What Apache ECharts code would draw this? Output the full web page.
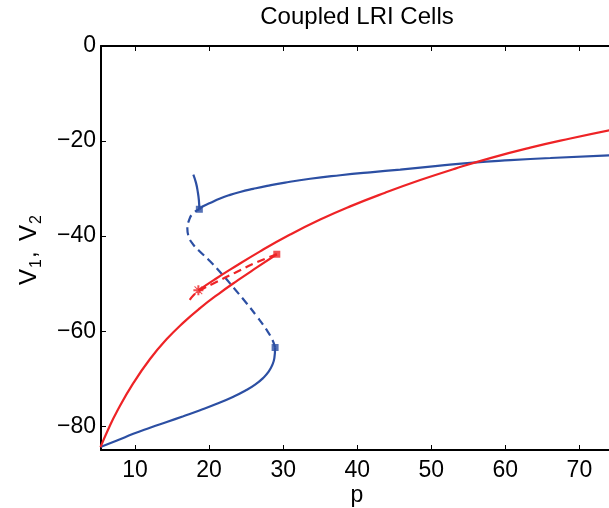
<!DOCTYPE html>
<html>
<head>
<meta charset="utf-8">
<script src="https://cdn.jsdelivr.net/npm/echarts@6/dist/echarts.min.js"></script>
<style>html,body{margin:0;padding:0;background:#fff}#c{width:609px;height:508px}</style>
</head>
<body>
<div id="c"></div>
<script>
// ---- data (p, V) ----
var xTicks = [10, 20, 30, 40, 50, 60, 70];
var yTicks = [0, -20, -40, -60, -80];

var blueLower = [[5.33,-84.35],[7.56,-83.0],[9.76,-81.6],[12.02,-80.33],[14.28,-79.11],[16.52,-77.89],[18.78,-76.63],[21.04,-75.28],[23.28,-73.79],[24.86,-72.55],[26.21,-71.25],[27.29,-69.86],[28.04,-68.53],[28.51,-67.17],[28.81,-65.69],[28.91,-63.44]];
var blueUnstable = [[28.91,-63.44],[28.51,-61.7],[27.7,-59.59],[26.48,-56.96],[25.0,-54.02],[23.37,-50.97],[21.75,-48.02],[20.13,-45.29],[18.64,-43.08],[17.76,-41.6],[17.22,-40.03],[17.06,-38.35],[17.29,-36.66],[17.83,-35.19],[18.68,-34.35]];
var blueUpper = [[18.68,-34.35],[19.18,-33.72],[20.13,-33.03],[21.48,-32.08],[22.83,-31.32],[24.18,-30.71],[25.94,-30.06],[27.83,-29.43],[30.26,-28.73],[33.64,-27.93],[37.7,-27.2],[41.75,-26.57],[45.81,-26.0],[50.54,-25.28],[55.67,-24.53],[60.67,-24.02],[66.08,-23.56],[74.05,-22.99]];
var blueTop = [[17.87,-27.05],[18.23,-28.8],[18.47,-30.7],[18.62,-32.5],[18.68,-34.35]];
var blueMarks = [[18.68,-34.35],[28.91,-63.44]];

var redLower = [[5.33,-84.4],[6.35,-80.73],[7.52,-76.99],[9.76,-70.94],[12.02,-65.85],[14.28,-61.67],[16.52,-58.2],[18.78,-55.15],[21.3,-52.13],[23.9,-49.27],[26.5,-46.54],[29.14,-43.81]];
var redUnstable = [[29.14,-43.81],[26.44,-45.5],[23.51,-47.7],[20.58,-49.98],[18.78,-51.4],[17.83,-52.55],[17.2,-53.85]];
var redUpper = [[18.55,-51.4],[20.67,-49.2],[22.83,-47.06],[26.89,-43.2],[30.94,-39.67],[35.0,-36.51],[39.05,-33.74],[43.78,-30.86],[48.51,-28.21],[53.24,-25.79],[57.97,-23.58],[63.37,-21.39],[68.78,-19.46],[74.05,-17.73]];
var redSquare = [[29.14,-43.81]];
var redStar = [[18.55,-51.4]];

var BLUE = '#2c4fa3', RED = '#ee2326';
var FONT = 'Liberation Sans, Arial, Helvetica, sans-serif';
var XMIN = 5.4, XMAX = 74.0, YMIN = -85, YMAX = 0;

function line(data, color, dashed) {
  return {
    type: 'line', data: data, smooth: 0.5, showSymbol: false, symbol: 'none',
    xAxisIndex: 0, yAxisIndex: 0, z: 3, silent: true,
    lineStyle: { color: color, width: 2.2, type: dashed ? [8, 5] : 'solid' }
  };
}
function marks(data, color, symbol, size) {
  return {
    type: 'scatter', data: data, symbol: symbol, symbolSize: size,
    itemStyle: { color: color }, z: 5, silent: true
  };
}
var minus = function (v) { return String(v).replace('-', '\u2212'); };
var STAR = 'path://M4,0 L6,0 L6,4 L10,4 L10,6 L6,6 L6,10 L4,10 L4,6 L0,6 L0,4 L4,4 Z M1.5,0.8 L5,4.3 L8.5,0.8 L9.2,1.5 L5.7,5 L9.2,8.5 L8.5,9.2 L5,5.7 L1.5,9.2 L0.8,8.5 L4.3,5 L0.8,1.5 Z';

function lbl(text, x, y, size) {
  return { type: 'text', x: x, y: y, style: { text: text, fill: '#000', font: size + 'px ' + FONT, textAlign: 'left', textVerticalAlign: 'middle' } };
}

var chart = echarts.init(document.getElementById('c'), null, { renderer: 'canvas' });
chart.setOption({
  animation: false,
  backgroundColor: '#fff',
  grid: { left: 101, right: 0, top: 46, bottom: 58, containLabel: false },
  xAxis: [{
    type: 'value', min: XMIN, max: XMAX, position: 'bottom',
    axisLine: { show: true, onZero: false, lineStyle: { color: '#000', width: 2 } },
    axisTick: { show: true, inside: true, length: 5, customValues: xTicks, lineStyle: { color: '#000', width: 1 } },
    axisLabel: { customValues: xTicks, color: '#000', fontSize: 23, fontFamily: FONT, margin: 9 },
    splitLine: { show: false }
  }, {
    type: 'value', min: XMIN, max: XMAX, position: 'top',
    axisLine: { show: true, onZero: false, lineStyle: { color: '#000', width: 2 } },
    axisTick: { show: true, inside: true, length: 5, customValues: xTicks, lineStyle: { color: '#000', width: 1 } },
    axisLabel: { show: false },
    splitLine: { show: false }
  }],
  yAxis: [{
    type: 'value', min: YMIN, max: YMAX, position: 'left',
    axisLine: { show: true, onZero: false, lineStyle: { color: '#000', width: 2 } },
    axisTick: { show: true, inside: true, length: 5, customValues: yTicks, lineStyle: { color: '#000', width: 1 } },
    axisLabel: { customValues: yTicks, formatter: minus, color: '#000', fontSize: 23, fontFamily: FONT, margin: 5 },
    splitLine: { show: false }
  }],
  graphic: [
    { type: 'text', x: 357, y: 5, style: { text: 'Coupled LRI Cells', fill: '#000', font: '24px ' + FONT, textAlign: 'center' } },
    { type: 'text', x: 357, y: 484, style: { text: 'p', fill: '#000', font: '23px ' + FONT, textAlign: 'center' } },
    { type: 'group', x: 29, y: 285, rotation: Math.PI / 2,
      children: [
        lbl('V', 0, 0, 24),
        lbl('1', 17, 8, 16),
        lbl(',', 27, 0, 24),
        lbl('V', 44, 0, 24),
        lbl('2', 61, 8, 16)
      ] }
  ],
  series: [
    line(blueLower, BLUE, false),
    line(blueUnstable, BLUE, true),
    line(blueUpper, BLUE, false),
    line(blueTop, BLUE, false),
    line(redLower, RED, false),
    line(redUnstable, RED, true),
    line(redUpper, RED, false),
    marks(blueMarks, BLUE, 'rect', 7),
    marks(redSquare, RED, 'rect', 7),
    marks(redStar, RED, STAR, 10)
  ]
});
</script>
</body>
</html>
